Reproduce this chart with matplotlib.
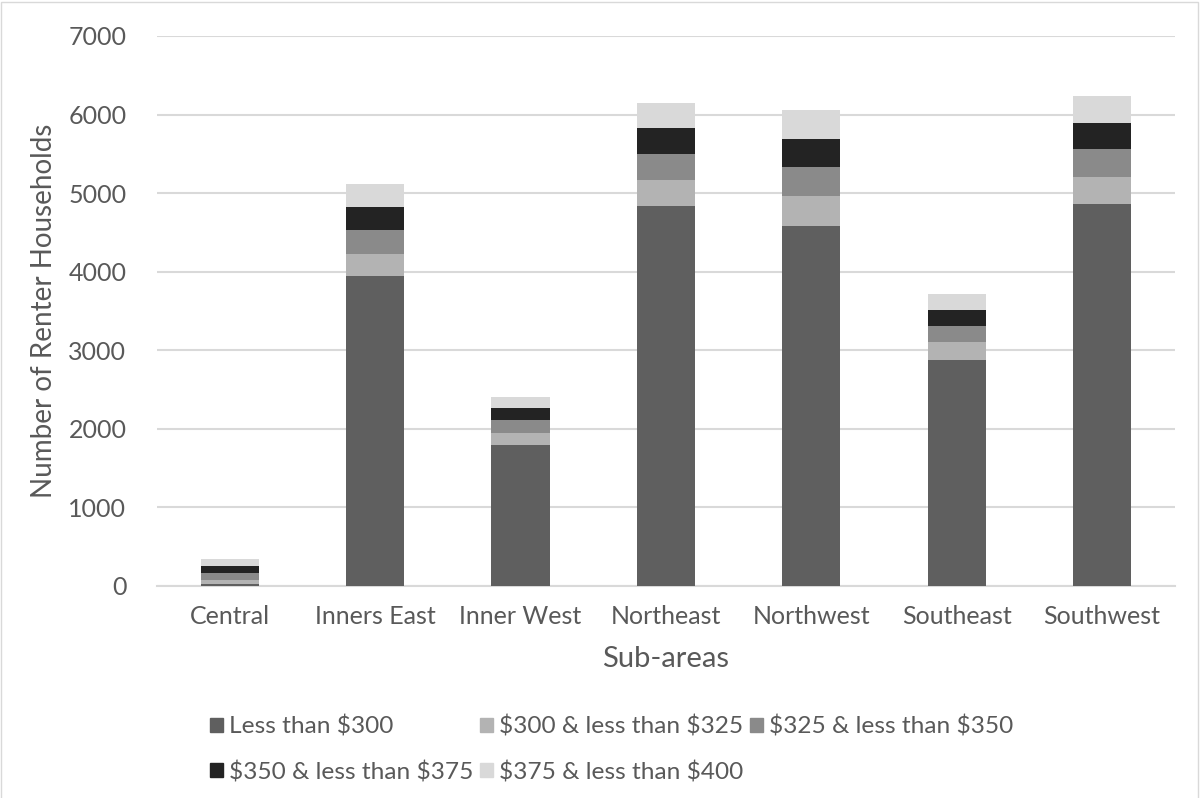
import numpy as np
import matplotlib
matplotlib.use('Agg')
import matplotlib.pyplot as plt
from matplotlib.patches import Patch, Rectangle

plt.rcParams['font.family'] = ['Lato', 'DejaVu Sans']

# 数据
areas = ['Central', 'Inners East', 'Inner West', 'Northeast', 'Northwest', 'Southeast', 'Southwest']
less_300 = [25, 3940, 1800, 4840, 4580, 2880, 4860]
r300_325 = [50, 290, 150, 330, 380, 220, 340]
r325_350 = [90, 300, 160, 330, 370, 210, 360]
r350_375 = [90, 290, 150, 330, 360, 200, 330]
r375_400 = [90, 290, 150, 320, 370, 210, 350]

series = [
    (r'Less than \$300', less_300, '#5f5f5f'),
    (r'\$300 & less than \$325', r300_325, '#b3b3b3'),
    (r'\$325 & less than \$350', r325_350, '#8a8a8a'),
    (r'\$350 & less than \$375', r350_375, '#232323'),
    (r'\$375 & less than \$400', r375_400, '#d9d9d9'),
]

TXT = '#595959'
GRID = '#d9d9d9'

fig = plt.figure(figsize=(12, 7.98), dpi=100)
ax = fig.add_axes([0.1308, 0.2657, 0.979 - 0.1308, 0.9549 - 0.2657])

x = np.arange(len(areas))
bottom = np.zeros(len(areas))
for name, vals, color in series:
    ax.bar(x, vals, width=0.4, bottom=bottom, color=color, label=name, zorder=3)
    bottom += np.array(vals)

ax.set_xlim(-0.5, len(areas) - 0.5)
ax.set_ylim(0, 7000)
ax.set_yticks(np.arange(0, 7001, 1000))
ax.yaxis.grid(True, color=GRID, linewidth=1.5, zorder=0)
ax.set_axisbelow(True)
for s in ['top', 'right', 'left']:
    ax.spines[s].set_visible(False)
ax.spines['bottom'].set_color(GRID)
ax.spines['bottom'].set_linewidth(1.5)
ax.tick_params(axis='both', length=0, labelsize=18, colors=TXT)
ax.tick_params(axis='y', pad=22)
ax.tick_params(axis='x', pad=14)
ax.set_xticks(x)
ax.set_xticklabels(areas)

ax.set_ylabel('Number of Renter Households', fontsize=20, color=TXT, labelpad=8)
ax.set_xlabel('Sub-areas', fontsize=21, color=TXT, labelpad=13)

# 图例（按参考图位置逐项放置）
legend_pos = [(210, 727), (480, 727), (750, 727), (210, 772), (480, 772)]
for (n, v, c), (px, py) in zip(series, legend_pos):
    fig.legend(handles=[Patch(color=c, label=n)], loc='center left',
               bbox_to_anchor=(px / 1200, 1 - py / 798), frameon=False, fontsize=17.6,
               handlelength=0.52, handleheight=0.52, handletextpad=0.25,
               labelcolor=TXT, borderaxespad=0, borderpad=0)

# 外框
fig.add_artist(Rectangle((0.001, -0.01), 0.997, 1.007, transform=fig.transFigure,
                         fill=False, edgecolor='#d9d9d9', linewidth=1))

fig.savefig('out.png', dpi=100, facecolor='white')
